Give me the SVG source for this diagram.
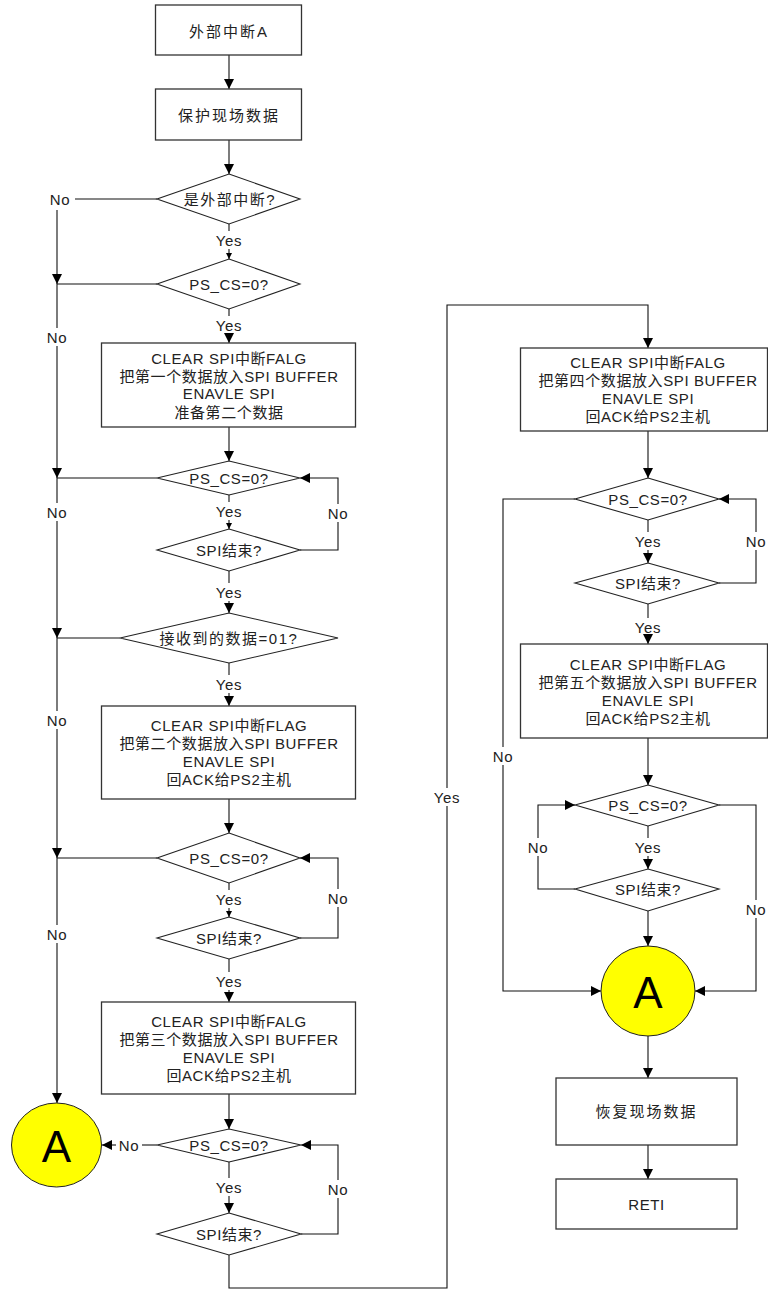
<svg xmlns="http://www.w3.org/2000/svg" width="768" height="1289" viewBox="0 0 768 1289">
<style>
.box{fill:#fff;stroke:#333;stroke-width:1.3}
.dia{fill:#fff;stroke:#222;stroke-width:1.1}
.con{fill:#fff;stroke:#222;stroke-width:1}
.t{font-family:"Liberation Sans","Noto Sans CJK SC",sans-serif;font-size:15px;fill:#222;text-anchor:middle;dominant-baseline:central;letter-spacing:0.6px}
.big{font-family:"Liberation Sans",sans-serif;font-size:44px;fill:#000;text-anchor:middle;dominant-baseline:central}
.ln{fill:none;stroke:#111;stroke-width:1.1}
.a{marker-end:url(#ah)}
.s{marker-end:url(#sh)}
</style>
<defs>
<marker id="ah" viewBox="0 0 10 10" refX="10" refY="5" markerWidth="10" markerHeight="10" markerUnits="userSpaceOnUse" orient="auto"><path d="M0,0 L10,5 L0,10 z" fill="#000"/></marker>
<marker id="sh" viewBox="0 0 10 10" refX="10" refY="5" markerWidth="6" markerHeight="6" markerUnits="userSpaceOnUse" orient="auto"><path d="M0,0 L10,5 L0,10 z" fill="#000"/></marker>
</defs>
<rect width="768" height="1289" fill="#fff"/>

<g id="connectors">
<!-- left column main -->
<path class="ln a" d="M229,55 V89"/>
<path class="ln a" d="M229,140 V174"/>
<path class="ln" d="M229,224 V231"/><path class="ln s" d="M229,249 V259"/>
<path class="ln" d="M229,309 V316"/><path class="ln a" d="M229,334 V343"/>
<path class="ln a" d="M229,427 V461"/>
<path class="ln" d="M229,495 V502"/><path class="ln s" d="M229,520 V529"/>
<path class="ln" d="M229,571 V583"/><path class="ln a" d="M229,601 V613"/>
<path class="ln" d="M229,663 V675"/><path class="ln a" d="M229,693 V706"/>
<path class="ln a" d="M229,799 V833"/>
<path class="ln" d="M229,883 V890"/><path class="ln s" d="M229,908 V917"/>
<path class="ln" d="M229,959 V972"/><path class="ln a" d="M229,990 V1002"/>
<path class="ln a" d="M229,1094 V1129"/>
<path class="ln" d="M229,1162 V1178"/><path class="ln a" d="M229,1196 V1213"/>
<!-- left No bus -->
<path class="ln" d="M157,199 H75"/>
<path class="ln a" d="M57,210 V284"/>
<path class="ln" d="M157,284 H57 V328"/>
<path class="ln a" d="M57,346 V478"/>
<path class="ln" d="M157,478 H57 V503"/>
<path class="ln a" d="M57,521 V638"/>
<path class="ln" d="M120,638 H57 V711"/>
<path class="ln a" d="M57,729 V858"/>
<path class="ln" d="M157,858 H57 V925"/>
<path class="ln a" d="M57,943 V1103"/>
<!-- loops -->
<path class="ln" d="M300,550 H338 V522"/><path class="ln a" d="M338,504 V478 H300"/>
<path class="ln" d="M300,938 H338 V907"/><path class="ln a" d="M338,889 V858 H300"/>
<path class="ln" d="M301,1234 H338 V1198"/><path class="ln a" d="M338,1180 V1145 H301"/>
<path class="ln" d="M157,1145 H142"/><path class="ln a" d="M116,1145 H102"/>
<!-- crossover -->
<path class="ln" d="M229,1255 V1288 H447 V806"/>
<path class="ln a" d="M447,788 V305 H648 V348"/>
<!-- right column -->
<path class="ln a" d="M648,431 V478"/>
<path class="ln" d="M648,520 V532"/><path class="ln a" d="M648,550 V563"/>
<path class="ln" d="M719,583 H756 V550"/><path class="ln a" d="M756,532 V499 H719"/>
<path class="ln" d="M648,604 V618"/><path class="ln a" d="M648,636 V644"/>
<path class="ln" d="M575,499 H503 V747"/><path class="ln a" d="M503,765 V991 H601"/>
<path class="ln a" d="M648,738 V785"/>
<path class="ln" d="M719,805 H756 V900"/><path class="ln a" d="M756,918 V991 H695"/>
<path class="ln" d="M648,826 V838"/><path class="ln a" d="M648,856 V869"/>
<path class="ln" d="M575,889 H538 V856"/><path class="ln a" d="M538,838 V805 H575"/>
<path class="ln a" d="M648,911 V946"/>
<path class="ln a" d="M648,1036 V1078"/>
<path class="ln a" d="M648,1145 V1179"/>
<!-- labels -->
<text class="t" x="60" y="199">No</text>
<text class="t" x="229" y="240">Yes</text>
<text class="t" x="229" y="325">Yes</text>
<text class="t" x="57" y="337">No</text>
<text class="t" x="229" y="511">Yes</text>
<text class="t" x="57" y="512">No</text>
<text class="t" x="338" y="513">No</text>
<text class="t" x="229" y="592">Yes</text>
<text class="t" x="229" y="684">Yes</text>
<text class="t" x="57" y="720">No</text>
<text class="t" x="229" y="899">Yes</text>
<text class="t" x="338" y="898">No</text>
<text class="t" x="57" y="934">No</text>
<text class="t" x="229" y="981">Yes</text>
<text class="t" x="129" y="1145">No</text>
<text class="t" x="229" y="1187">Yes</text>
<text class="t" x="338" y="1189">No</text>
<text class="t" x="447" y="797">Yes</text>
<text class="t" x="648" y="541">Yes</text>
<text class="t" x="756" y="541">No</text>
<text class="t" x="648" y="627">Yes</text>
<text class="t" x="503" y="756">No</text>
<text class="t" x="648" y="847">Yes</text>
<text class="t" x="538" y="847">No</text>
<text class="t" x="756" y="909">No</text>
</g>

<g id="n1"><rect class="box" x="155.5" y="5" width="146" height="50"/><text class="t" x="229" y="31" style="letter-spacing:2px">外部中断A</text></g>
<g id="n2"><rect class="box" x="155.5" y="89" width="146" height="51"/><text class="t" x="229" y="115" style="letter-spacing:2px">保护现场数据</text></g>
<g id="d1"><polygon class="dia" points="229,174 300,199 229,224 157,199"/><text class="t" x="230" y="199" style="letter-spacing:1.5px">是外部中断?</text></g>
<g id="d2"><polygon class="dia" points="229,259 300,284 229,309 157,284"/><text class="t" x="229" y="284">PS_CS=0?</text></g>
<g id="n3"><rect class="box" x="101.5" y="343" width="254" height="84"/>
<text class="t" x="229" y="358">CLEAR SPI中断FALG</text>
<text class="t" x="229" y="376">把第一个数据放入SPI BUFFER</text>
<text class="t" x="229" y="393">ENAVLE SPI</text>
<text class="t" x="229" y="412">准备第二个数据</text></g>
<g id="d3"><polygon class="dia" points="229,461 300,478 229,495 157,478"/><text class="t" x="229" y="478">PS_CS=0?</text></g>
<g id="d4"><polygon class="dia" points="229,529 300,550 229,571 157,550"/><text class="t" x="229" y="550">SPI结束?</text></g>
<g id="d5"><polygon class="dia" points="229,613 338,638 229,663 120,638"/><text class="t" x="229" y="638" style="letter-spacing:1.5px">接收到的数据=01?</text></g>
<g id="n4"><rect class="box" x="101.5" y="706" width="254" height="93"/>
<text class="t" x="229" y="725">CLEAR SPI中断FLAG</text>
<text class="t" x="229" y="743">把第二个数据放入SPI BUFFER</text>
<text class="t" x="229" y="761">ENAVLE SPI</text>
<text class="t" x="229" y="779">回ACK给PS2主机</text></g>
<g id="d6"><polygon class="dia" points="229,833 300,858 229,883 157,858"/><text class="t" x="229" y="858">PS_CS=0?</text></g>
<g id="d7"><polygon class="dia" points="229,917 300,938 229,959 157,938"/><text class="t" x="229" y="938">SPI结束?</text></g>
<g id="n5"><rect class="box" x="101.5" y="1002" width="254" height="92"/>
<text class="t" x="229" y="1021">CLEAR SPI中断FALG</text>
<text class="t" x="229" y="1039">把第三个数据放入SPI BUFFER</text>
<text class="t" x="229" y="1057">ENAVLE SPI</text>
<text class="t" x="229" y="1075">回ACK给PS2主机</text></g>
<g id="d8"><polygon class="dia" points="229,1129 301,1145 229,1162 157,1145"/><text class="t" x="229" y="1145">PS_CS=0?</text></g>
<g id="d9"><polygon class="dia" points="229,1213 301,1234 229,1255 157,1234"/><text class="t" x="229" y="1234">SPI结束?</text></g>
<g id="cA1"><ellipse cx="56.5" cy="1145" rx="45" ry="42" fill="#ffff00" stroke="#222" stroke-width="1"/><text class="big" x="56.5" y="1146">A</text></g>

<g id="n6"><rect class="box" x="520.5" y="348" width="247" height="83"/>
<text class="t" x="648" y="362">CLEAR SPI中断FALG</text>
<text class="t" x="648" y="380">把第四个数据放入SPI BUFFER</text>
<text class="t" x="648" y="398">ENAVLE SPI</text>
<text class="t" x="648" y="416">回ACK给PS2主机</text></g>
<g id="d10"><polygon class="dia" points="648,478 719,499 648,520 575,499"/><text class="t" x="648" y="499">PS_CS=0?</text></g>
<g id="d11"><polygon class="dia" points="648,563 719,583 648,604 575,583"/><text class="t" x="648" y="583">SPI结束?</text></g>
<g id="n7"><rect class="box" x="520.5" y="644" width="247" height="94"/>
<text class="t" x="648" y="664">CLEAR SPI中断FLAG</text>
<text class="t" x="648" y="682">把第五个数据放入SPI BUFFER</text>
<text class="t" x="648" y="700">ENAVLE SPI</text>
<text class="t" x="648" y="718">回ACK给PS2主机</text></g>
<g id="d12"><polygon class="dia" points="648,785 719,805 648,826 575,805"/><text class="t" x="648" y="805">PS_CS=0?</text></g>
<g id="d13"><polygon class="dia" points="648,869 719,889 648,911 575,889"/><text class="t" x="648" y="889">SPI结束?</text></g>
<g id="cA2"><ellipse cx="648" cy="991" rx="47" ry="45" fill="#ffff00" stroke="#222" stroke-width="1"/><text class="big" x="648" y="992">A</text></g>
<g id="n8"><rect class="box" x="556" y="1078" width="181" height="67"/><text class="t" x="646.5" y="1111" style="letter-spacing:2px">恢复现场数据</text></g>
<g id="n9"><rect class="box" x="556" y="1179" width="181" height="50"/><text class="t" x="646.5" y="1204">RETI</text></g>
</svg>
